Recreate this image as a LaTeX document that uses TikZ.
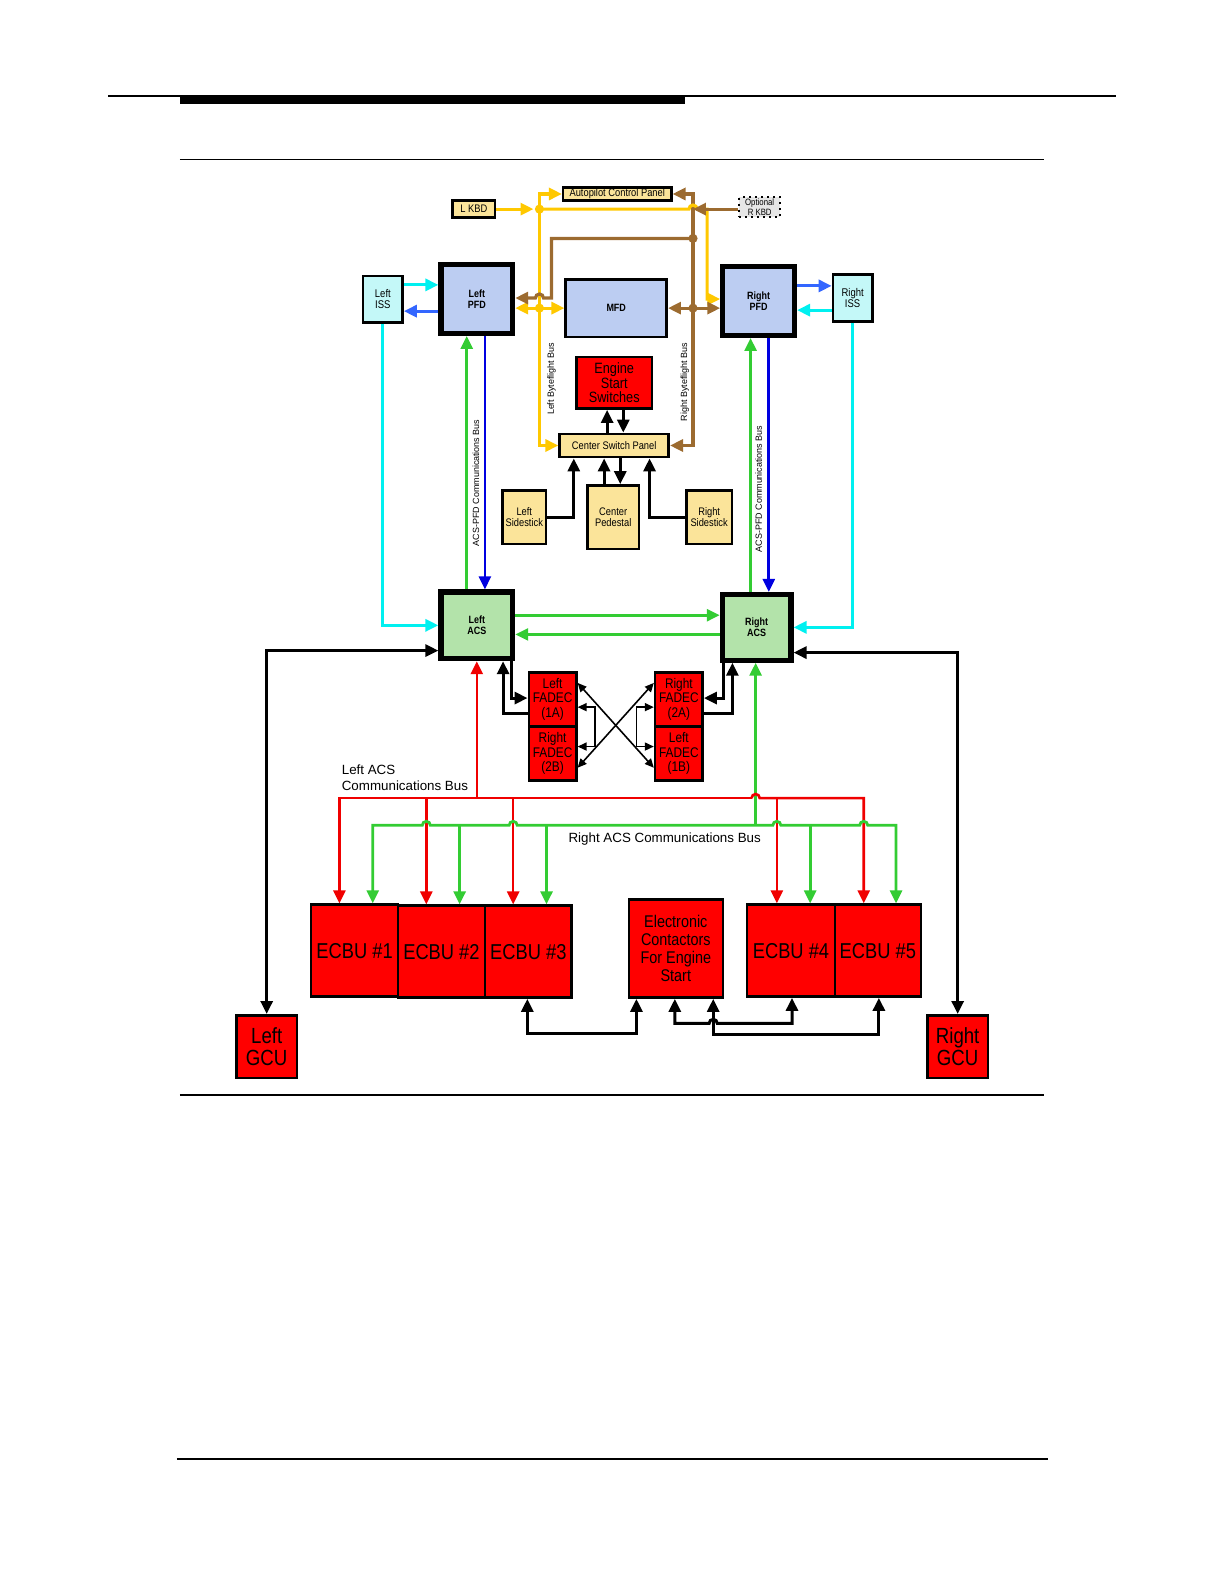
\documentclass[tikz,border=0pt]{standalone}
\usepackage{fontspec}
\setmainfont{Liberation Sans}
\newfontfamily\cfont[FakeStretch=0.85]{Liberation Sans}
\usetikzlibrary{arrows.meta,positioning}
\definecolor{gold}{HTML}{FFC800}
\definecolor{brownb}{HTML}{9C6B30}
\definecolor{cyanb}{HTML}{00F0F0}
\definecolor{blueb}{HTML}{3366FF}
\definecolor{bluedk}{HTML}{0000E0}
\definecolor{greenb}{HTML}{33CC33}
\definecolor{redb}{HTML}{F00000}
\definecolor{boxred}{HTML}{FF0000}
\definecolor{pfdfill}{HTML}{BCCDF2}
\definecolor{issfill}{HTML}{C4F8F8}
\definecolor{acsfill}{HTML}{B3E3AA}
\definecolor{paleyel}{HTML}{FBE49A}
\definecolor{kbdgray}{HTML}{E6E6E6}
\newcommand\lblfont{\cfont\fontsize{5.3}{5.6}\selectfont\bfseries}
\newcommand\issfont{\cfont\fontsize{5.6}{5.9}\selectfont}
\newcommand\smallfont{\cfont\fontsize{5.5}{5.8}\selectfont}
\newcommand\tinyfont{\cfont\fontsize{4.6}{5}\selectfont}
\newcommand\essfont{\cfont\fontsize{7.5}{7.2}\selectfont}
\newcommand\fadecfont{\cfont\fontsize{7}{7.2}\selectfont}
\newcommand\ecbufont{\cfont\fontsize{10.8}{11}\selectfont}
\newcommand\ecfont{\cfont\fontsize{8.5}{9}\selectfont}
\newcommand\gcufont{\cfont\fontsize{11}{11.3}\selectfont}
\tikzset{
  dims/.style 2 args={minimum width=#1*0.17813mm,minimum height=#2*0.17813mm},
  box/.style={draw=black,line width=1.3pt,inner sep=0pt,align=center},
  heavy/.style={box,line width=2.6pt},
  pale/.style={box,fill=paleyel},
  redbox/.style={box,fill=boxred},
  yl/.style={draw=gold,line width=1.6pt},
  bl/.style={draw=brownb,line width=1.6pt},
  cl/.style={draw=cyanb,line width=1.6pt},
  ul/.style={draw=blueb,line width=1.6pt},
  dl/.style={draw=bluedk,line width=1.3pt},
  gl/.style={draw=greenb,line width=1.4pt},
  rl/.style={draw=redb,line width=1.3pt},
  kl/.style={draw=black,line width=1.5pt},
  xl/.style={draw=black,line width=0.8pt,>={Triangle[length=4.5pt,width=4pt]}},
  jdot/.style={circle,fill=#1,inner sep=0pt,minimum size=4.6pt},
  buslbl/.style={font=\fontsize{6.7}{8}\selectfont,inner sep=0pt,align=left},
  vlbl/.style={rotate=90,inner sep=0pt,font=\fontsize{4.5}{5}\selectfont}
}

\begin{document}
\begin{tikzpicture}[x=0.17813mm,y=-0.17813mm,>={Triangle[length=6.5pt,width=6pt]}]
\useasboundingbox (0,0) rectangle (1212,1568);

\fill (178,95) rectangle (678,103);
\draw[line width=0.8pt] (107,95) -- (1105,95);
\draw[line width=0.8pt] (178,158) -- (1033,158);
\draw[line width=0.8pt] (178,1084) -- (1033,1084);
\draw[line width=0.8pt] (175,1444) -- (1037,1444);

\node[pale,dims={42}{17},font=\smallfont] (lkbd) at (469,207) {L KBD};
\node[pale,dims={107}{13},font=\smallfont] (apcp) at (611,192) {Autopilot Control Panel};
\node[box,line width=1pt,dotted,fill=kbdgray,dims={40}{20},font=\tinyfont] (rkbd) at (752,205) {Optional\\R KBD};

\node[heavy,fill=pfdfill,dims={71}{68},font=\lblfont] (lpfd) at (472,296) {Left\\PFD};
\node[box,fill=pfdfill,dims={100}{57},font=\lblfont] (mfd) at (610,305) {MFD};
\node[heavy,fill=pfdfill,dims={71}{68},font=\lblfont] (rpfd) at (751,298) {Right\\PFD};
\node[box,fill=issfill,dims={39}{46},font=\issfont] (liss) at (379,296) {Left\\ISS};
\node[box,fill=issfill,dims={39}{46},font=\issfont] (riss) at (844,295) {Right\\ISS};

\node[redbox,dims={75}{51},font=\essfont] (ess) at (608,379) {Engine\\Start\\Switches};
\node[pale,dims={108}{23},font=\smallfont] (csp) at (608,441) {Center Switch Panel};
\node[pale,dims={43}{53},font=\smallfont] (lside) at (519,512) {Left\\Sidestick};
\node[pale,dims={51}{63},font=\smallfont] (cped) at (607,512) {Center\\Pedestal};
\node[pale,dims={45}{53},font=\smallfont] (rside) at (702,512) {Right\\Sidestick};

\node[heavy,fill=acsfill,dims={71}{66},font=\lblfont] (lacs) at (472,619) {Left\\ACS};
\node[heavy,fill=acsfill,dims={68}{65},font=\lblfont] (racs) at (749,621) {Right\\ACS};

\node[redbox,dims={47}{53},font=\fadecfont] (fadec1a) at (547,692) {Left\\FADEC\\(1A)};
\node[redbox,dims={47}{53},font=\fadecfont] (fadec2b) at (547,746) {Right\\FADEC\\(2B)};
\node[redbox,dims={47}{53},font=\fadecfont] (fadec2a) at (672,692) {Right\\FADEC\\(2A)};
\node[redbox,dims={47}{53},font=\fadecfont] (fadec1b) at (672,746) {Left\\FADEC\\(1B)};

\node[redbox,dims={86}{91},font=\ecbufont] (ecbu1) at (351,941) {ECBU \#1};
\node[redbox,dims={86}{91},font=\ecbufont] (ecbu2) at (437,942) {ECBU \#2};
\node[redbox,dims={86}{91},font=\ecbufont] (ecbu3) at (523,942) {ECBU \#3};
\node[redbox,dims={93}{97},font=\ecfont] (ec) at (669,939) {Electronic\\Contactors\\For Engine\\Start};
\node[redbox,dims={87}{91},font=\ecbufont] (ecbu4) at (783,941) {ECBU \#4};
\node[redbox,dims={85}{91},font=\ecbufont] (ecbu5) at (869,941) {ECBU \#5};
\node[redbox,dims={60}{62},font=\gcufont] (lgcu) at (264,1036) {Left\\GCU};
\node[redbox,dims={60}{62},font=\gcufont] (rgcu) at (948,1036) {Right\\GCU};

\coordinate (yj1) at (534,207);
\coordinate (yj2) at (534,305);
\coordinate (bj0) at (686,207);
\coordinate (bj1) at (686,236);
\coordinate (bj2) at (686,305);

\draw[bl,->] (bj0) |- (apcp.east);
\draw[bl,->] (bj0) |- (csp.east);
\draw[yl,->,shorten >=3pt] (lkbd.east) -- (yj1);
\draw[yl,->] (yj1) |- (apcp.west);
\draw[yl,->] (yj1) |- (csp.west);
\draw[yl,->] (yj1) -- (682,207) arc (180:360:4) -- (700,207) -- (700,296) -- (rpfd.west |- 0,296);
\draw[yl,<->] (lpfd.east |- yj2) -- (mfd.west |- yj2);
\draw[bl,->] (bj1) -- (546,236) -- (546,295) -- (538,295) arc (0:-180:4) -- (lpfd.east |- 0,295);
\draw[bl,<->] (mfd.east |- bj2) -- (rpfd.west |- bj2);
\draw[bl,->] (rkbd.west |- bj0) -- (bj0);
\node[jdot=gold] at (yj1) {};
\node[jdot=gold] at (yj2) {};
\node[jdot=brownb] at (bj1) {};
\node[jdot=brownb] at (bj2) {};
\node[vlbl] (lbflbl) at (546,375) {Left Byteflight Bus};
\node[vlbl] (rbflbl) at (678,378) {Right Byteflight Bus};

\draw[kl,->] (601,0 |- csp.north) -- (601,0 |- ess.south);
\draw[kl,->] (617,0 |- ess.south) -- (617,0 |- csp.north);
\draw[kl,->] (598,0 |- cped.north) -- (598,0 |- csp.south);
\draw[kl,->] (614,0 |- csp.south) -- (614,0 |- cped.north);
\draw[kl,->] (lside.east) -| (568,0 |- csp.south);
\draw[kl,->] (rside.west) -| (643,0 |- csp.south);

\draw[cl,->] (liss.east |- 0,282) -- (lpfd.west |- 0,282);
\draw[ul,->] (lpfd.west |- 0,308) -- (liss.east |- 0,308);
\draw[ul,->] (rpfd.east |- 0,283) -- (riss.west |- 0,283);
\draw[cl,->] (riss.west |- 0,307) -- (rpfd.east |- 0,307);
\draw[cl,->] (liss.south) |- (lacs.west);
\draw[cl,->] (riss.south) |- (racs.east);

\draw[gl,->] (lacs.north -| 462,0) -- (lpfd.south -| 462,0);
\draw[dl,->] (lpfd.south -| 480,0) -- (lacs.north -| 480,0);
\draw[gl,->] (racs.north -| 743,0) -- (rpfd.south -| 743,0);
\draw[dl,->] (rpfd.south -| 761,0) -- (racs.north -| 761,0);
\node[vlbl] (lacslbl) at (471,478) {ACS-PFD Communications Bus};
\node[vlbl] (racslbl) at (751,484) {ACS-PFD Communications Bus};

\draw[gl,->] (lacs.east |- 0,609) -- (racs.west |- 0,609);
\draw[gl,->] (racs.west |- 0,628) -- (lacs.east |- 0,628);

\draw[kl,<->] (lacs.west |- 0,644) -| (lgcu.north);
\draw[kl,<->] (racs.east |- 0,646) -| (rgcu.north);

\draw[kl,->] (fadec1a.west |- 0,706) -| (498,0 |- lacs.south);
\draw[kl,->] (506,0 |- lacs.south) |- (fadec1a.west |- 0,691);
\draw[kl,->] (716,0 |- racs.south) |- (fadec2a.east |- 0,691);
\draw[kl,->] (fadec2a.east |- 0,706) -| (725,0 |- racs.south);
\draw[xl,<->] (fadec1a.east |- 0,676) -- (fadec1b.west |- 0,760);
\draw[xl,<->] (fadec2b.east |- 0,760) -- (fadec2a.west |- 0,676);
\draw[xl,<->] (fadec1a.east |- 0,700) -| (589,720) |- (fadec2b.east |- 0,739);
\draw[xl,<->] (fadec2a.west |- 0,700) -| (630,720) |- (fadec1b.west |- 0,739);

\coordinate (rj) at (472,790);
\coordinate (gj) at (748,817);
\draw[rl,->] (rj) -- (lacs.south -| rj);
\draw[gl,->] (gj) -- (racs.south -| gj);
\draw[rl,->] (744,790) -- (336,790) -- (336,0 |- ecbu1.north);
\draw[rl,->] (744,790) arc (180:360:4) -- (855,790) -- (855,0 |- ecbu5.north);
\foreach \n/\x in {ecbu2/422,ecbu3/508,ecbu4/769}
  \draw[rl,->] (\x,790) -- (\x,0 |- \n.north);
\draw[gl,<->] (369,0 |- ecbu1.north) -- (369,817) -- (418,817) arc (180:360:4)
  -- (504,817) arc (180:360:4) -- (765,817) arc (180:360:4)
  -- (851,817) arc (180:360:4) -- (887,817) -- (887,0 |- ecbu5.north);
\foreach \n/\x in {ecbu2/455,ecbu3/541,ecbu4/802}
  \draw[gl,->] (\x,817) -- (\x,0 |- \n.north);
\node[buslbl,anchor=west] (lbuslbl) at (338,770) {Left ACS\\Communications Bus};
\node[buslbl] (rbuslbl) at (658,831) {Right ACS Communications Bus};

\draw[kl,<->] (522,0 |- ecbu3.south) |- (630,1023) -- (630,0 |- ec.south);
\draw[kl,<->] (706,0 |- ec.south) |- (870,1024) -- (870,0 |- ecbu5.south);
\draw[kl,<->] (668,0 |- ec.south) -- (668,1013) -- (702,1013) arc (180:360:4)
  -- (784,1013) -- (784,0 |- ecbu4.south);
\end{tikzpicture}
\end{document}
